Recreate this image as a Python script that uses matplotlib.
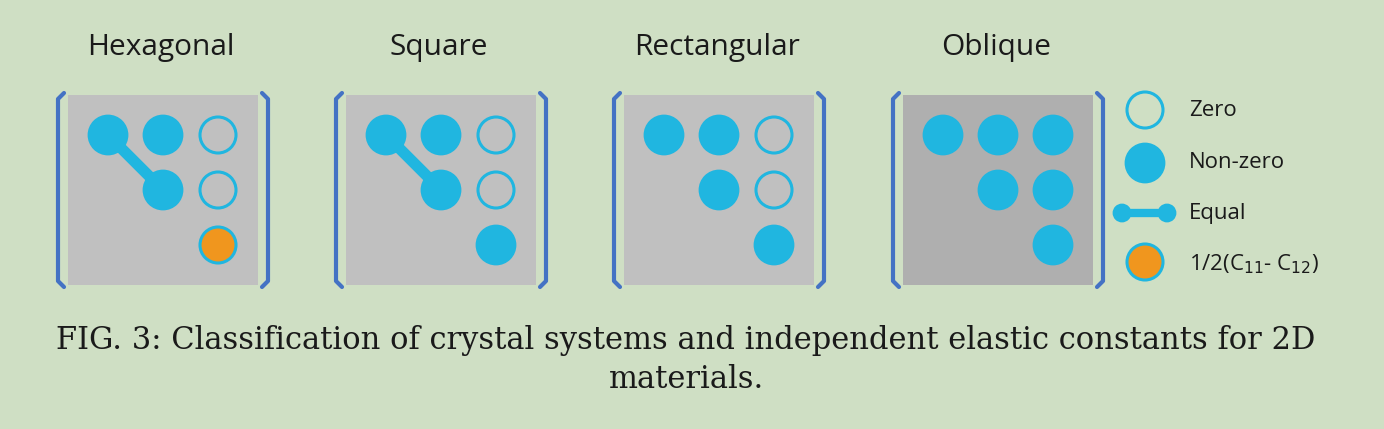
import matplotlib
matplotlib.use("Agg")
import matplotlib.pyplot as plt
from matplotlib.patches import Rectangle, Circle

systems = ["Hexagonal", "Square", "Rectangular", "Oblique"]
# matrix entries: (row, col, kind) kind: 'f' filled, 'o' open, 'h' half (orange)
entries = {
    "Hexagonal":   [(0,0,'f'),(0,1,'f'),(0,2,'o'),(1,1,'f'),(1,2,'o'),(2,2,'h')],
    "Square":      [(0,0,'f'),(0,1,'f'),(0,2,'o'),(1,1,'f'),(1,2,'o'),(2,2,'f')],
    "Rectangular": [(0,0,'f'),(0,1,'f'),(0,2,'o'),(1,1,'f'),(1,2,'o'),(2,2,'f')],
    "Oblique":     [(0,0,'f'),(0,1,'f'),(0,2,'f'),(1,1,'f'),(1,2,'f'),(2,2,'f')],
}
equal_links = {"Hexagonal": [((0,0),(1,1))], "Square": [((0,0),(1,1))],
               "Rectangular": [], "Oblique": []}
box_colors = {"Hexagonal": "#c0c0c0", "Square": "#c0c0c0",
              "Rectangular": "#c0c0c0", "Oblique": "#afafaf"}
legend_labels = ["Zero", "Non-zero", "Equal", "1/2(C$_{11}$- C$_{12}$)"]
caption = ["FIG. 3: Classification of crystal systems and independent elastic constants for 2D",
           "materials."]

BG = "#cfdfc4"; BLUE = "#20b6e0"; ORANGE = "#f0961e"; BR = "#4472c4"
fig = plt.figure(figsize=(13.84, 4.29), dpi=100, facecolor=BG)
ax = fig.add_axes([0, 0, 1, 1]); ax.set_xlim(0, 1384); ax.set_ylim(429, 0); ax.axis("off")

def circ(x, y, kind, r=19):
    if kind == 'f':
        ax.add_patch(Circle((x, y), r, fc=BLUE, ec=BLUE, lw=2, zorder=3))
    elif kind == 'o':
        ax.add_patch(Circle((x, y), r - 1, fc="none", ec=BLUE, lw=2.2, zorder=3))
    else:
        ax.add_patch(Circle((x, y), r - 1, fc=ORANGE, ec=BLUE, lw=2.2, zorder=3))

lefts = [68, 346, 624, 903]
for name, L in zip(systems, lefts):
    ax.add_patch(Rectangle((L, 95), 190, 190, fc=box_colors[name], ec="none", zorder=1))
    ax.text(L + 93, 47, name, ha="center", va="center", fontsize=21.5, family="Open Sans", color="#1a1a1a")
    for bx, d in ((L - 10, 1), (L + 200, -1)):
        ax.plot([bx + 6*d, bx, bx, bx + 6*d], [93, 99, 281, 287], color=BR, lw=3, solid_capstyle="round", zorder=2)
    pos = lambda r, c: (L + 40 + 55*c, 135 + 55*r)
    for (a, b) in equal_links[name]:
        (x1, y1), (x2, y2) = pos(*a), pos(*b)
        ax.plot([x1, x2], [y1, y2], color=BLUE, lw=8, zorder=2)
    for r, c, k in entries[name]:
        circ(*pos(r, c), k)

lx = 1145
circ(lx, 110, 'o'); circ(lx, 163, 'f')
ax.plot([1122, 1167], [213, 213], color=BLUE, lw=6, zorder=2)
circ(1122, 213, 'f', r=8); circ(1167, 213, 'f', r=8)
circ(lx, 262, 'h')
for y, t in zip([110, 163, 213, 264], legend_labels):
    ax.text(1189, y, t, ha="left", va="center", fontsize=16, family="Open Sans", color="#1a1a1a")

ax.text(686, 340, caption[0], ha="center", va="center", fontsize=22, family="DejaVu Serif", color="#1a1a1a")
ax.text(686, 380, caption[1], ha="center", va="center", fontsize=22, family="DejaVu Serif", color="#1a1a1a")
fig.savefig("out.png", dpi=100, facecolor=BG)
